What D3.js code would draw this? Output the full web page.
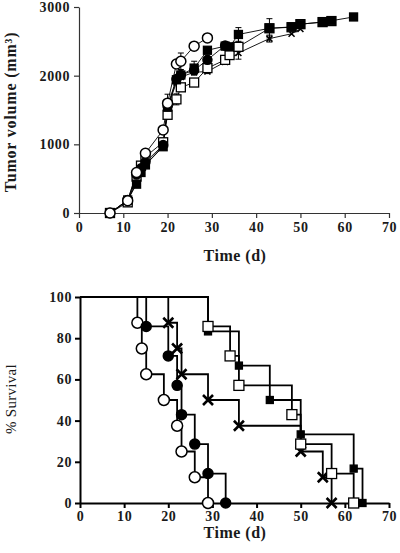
<!DOCTYPE html>
<html><head><meta charset="utf-8">
<script src="https://cdn.jsdelivr.net/npm/d3@7"></script>
<style>body{margin:0;background:#fff}svg{display:block}</style>
</head><body><svg id="c" width="400" height="553"></svg>
<script>
// ---------- Data: tumor volume ----------
const tvDays = [7,11,13,14,15,19,20,22,23,26,29,33,34,36,43,48,50,55,57,62];
const tvOpenCircle   = [0,180,590,null,870,1210,1600,2170,2210,2430,2550,null,null,null,null,null,null,null,null,null];
const tvFilledCircle = [0,190,560,650,740,990,1560,1950,2010,2080,2230,2440,null,null,null,null,null,null,null,null];
const tvFilledSquare = [0,190,420,590,700,965,1540,1940,2010,2110,2370,2430,2420,2600,2690,2710,2750,2780,2800,2855];
const tvOpenSquare   = [0,155,530,690,820,1030,1430,1655,1830,1900,2110,2230,2300,2420,2690,2705,2750,2780,2795,null];
const tvCross        = [0,180,460,620,700,980,1540,1900,1980,2050,2060,2200,null,2330,2540,2610,2680,null,null,null];
const tvErrOpenCircle   = [0,0,0,null,0,0,0,0,120,0,0,null,null,null,null,null,null,null,null,null];
const tvErrFilledCircle = [0,0,0,0,0,0,170,0,0,0,0,0,null,null,null,null,null,null,null,null];
const tvErrFilledSquare = [0,0,0,0,0,0,0,0,0,100,0,0,0,100,0,0,0,0,0,0];
const tvErrOpenSquare   = [0,0,0,0,0,0,0,80,0,0,80,0,0,180,140,0,0,0,0,null];
const tvErrCross        = [0,0,0,0,0,0,0,0,0,0,0,0,null,0,50,0,0,null,null,null];

// ---------- Data: survival (day of drop, % after drop) ----------
const svOpenCircleDays   = [13,14,15,19,22,23,26,29];
const svOpenCircleVals   = [87.5,75,62.5,50,37.5,25,12.5,0];
const svFilledCircleDays = [15,20,22,23,26,29,33];
const svFilledCircleVals = [85.7,71.4,57.1,42.9,28.6,14.3,0];
const svCrossDays        = [20,22,23,29,36,50,55,57];
const svCrossVals        = [87.5,75,62.5,50,37.5,25,12.5,0];
const svFilledSquareDays = [29,36,43,50,62,64];
const svFilledSquareVals = [83.3,66.7,50,33.3,16.7,0];
const svOpenSquareDays   = [29,34,36,48,50,57,62];
const svOpenSquareVals   = [85.7,71.4,57.1,42.9,28.6,14.3,0];

const xTicks = [0,10,20,30,40,50,60,70];
const tvYTicks = [0,1000,2000,3000];
const svYTicks = [0,20,40,60,80,100];

const svg = d3.select("#c");
const FONT = "'Liberation Serif', 'DejaVu Serif', serif";

function marker(g, type, x, y, s) {
  if (type === "oc" || type === "fc") {
    g.append("circle").attr("cx", x).attr("cy", y).attr("r", s)
      .attr("fill", type === "oc" ? "#fff" : "#000").attr("stroke", "#000").attr("stroke-width", 1.5);
  } else if (type === "os" || type === "fs") {
    g.append("rect").attr("x", x - s).attr("y", y - s).attr("width", 2 * s).attr("height", 2 * s)
      .attr("fill", type === "os" ? "#fff" : "#000").attr("stroke", "#000").attr("stroke-width", 1.3);
  } else if (type === "x") {
    g.append("path").attr("d", `M${x-s},${y-s}L${x+s},${y+s}M${x-s},${y+s}L${x+s},${y-s}`)
      .attr("stroke", "#000").attr("stroke-width", s > 4 ? 2.6 : 1.6);
  }
}
function styleTicks(a, col, w) {
  a.selectAll("path,line").attr("stroke", col).attr("stroke-width", w);
  a.selectAll("text").attr("font-family", FONT).attr("font-weight", "bold").attr("font-size", 14)
    .attr("letter-spacing", 0.6).attr("fill", "#1a1a1a");
}

// ================= Top chart =================
{
  const x = d3.scaleLinear().domain([0,70]).range([79,389]);
  const y = d3.scaleLinear().domain([0,3000]).range([213,7]);
  const g = svg.append("g");
  const ax = g.append("g").attr("transform", "translate(0,213)")
    .call(d3.axisBottom(x).tickValues(xTicks).tickFormat(d3.format("d")).tickSize(5).tickSizeOuter(0).tickPadding(4));
  const ay = g.append("g").attr("transform", "translate(79,0)")
    .call(d3.axisLeft(y).tickValues(tvYTicks).tickFormat(d3.format("d")).tickSize(5).tickSizeOuter(0).tickPadding(4));
  styleTicks(ax, "#333", 1.2); styleTicks(ay, "#333", 1.2);
  g.append("text").attr("x", 235).attr("y", 261).attr("text-anchor", "middle")
    .attr("font-family", FONT).attr("font-weight", "bold").attr("font-size", 16).attr("letter-spacing", 0.5)
    .attr("fill", "#1a1a1a").text("Time (d)");
  g.append("text").attr("transform", "translate(16,112) rotate(-90)").attr("text-anchor", "middle")
    .attr("font-family", FONT).attr("font-weight", "bold").attr("font-size", 16).attr("letter-spacing", 0.8)
    .attr("fill", "#1a1a1a").text("Tumor volume (mm³)");

  const series = [
    {v: tvCross, e: tvErrCross, t: "x", s: 3},
    {v: tvOpenSquare, e: tvErrOpenSquare, t: "os", s: 4.5},
    {v: tvFilledCircle, e: tvErrFilledCircle, t: "fc", s: 4.5},
    {v: tvFilledSquare, e: tvErrFilledSquare, t: "fs", s: 4},
    {v: tvOpenCircle, e: tvErrOpenCircle, t: "oc", s: 5}
  ];
  const line = d3.line().defined(d => d[1] != null).x(d => x(d[0])).y(d => y(d[1]));
  series.forEach(sr => {
    const pts = tvDays.map((d, i) => [d, sr.v[i], sr.e[i]]).filter(p => p[1] != null);
    g.append("path").attr("d", line(pts)).attr("fill", "none").attr("stroke", "#000").attr("stroke-width", 0.9);
    pts.forEach(p => {
      if (p[2]) {
        const px = x(p[0]);
        g.append("path").attr("d", `M${px},${y(p[1]-p[2])}V${y(p[1]+p[2])}M${px-3},${y(p[1]+p[2])}H${px+3}M${px-3},${y(p[1]-p[2])}H${px+3}`)
          .attr("stroke", "#000").attr("stroke-width", 1).attr("fill", "none");
      }
    });
  });
  series.forEach(sr => {
    tvDays.forEach((d, i) => { if (sr.v[i] != null) marker(g, sr.t, x(d), y(sr.v[i]), sr.s); });
  });
}

// ================= Bottom chart =================
{
  const x = d3.scaleLinear().domain([0,70]).range([80,389]);
  const y = d3.scaleLinear().domain([0,100]).range([503,297]);
  const g = svg.append("g");
  const series = [
    {d: svOpenCircleDays, v: svOpenCircleVals, t: "oc", s: 5.5},
    {d: svFilledCircleDays, v: svFilledCircleVals, t: "fc", s: 5},
    {d: svCrossDays, v: svCrossVals, t: "x", s: 5},
    {d: svFilledSquareDays, v: svFilledSquareVals, t: "fs", s: 3.5},
    {d: svOpenSquareDays, v: svOpenSquareVals, t: "os", s: 5}
  ];
  const line = d3.line().curve(d3.curveStepAfter).x(d => x(d[0])).y(d => y(d[1]));
  series.forEach(sr => {
    const pts = [[0,100]].concat(sr.d.map((d, i) => [d, sr.v[i]]));
    g.append("path").attr("d", line(pts)).attr("fill", "none").attr("stroke", "#000").attr("stroke-width", 1.8);
  });
  const ax = g.append("g").attr("transform", "translate(0,503)")
    .call(d3.axisBottom(x).tickValues(xTicks).tickFormat(d3.format("d")).tickSize(5).tickSizeOuter(0).tickPadding(3));
  const ay = g.append("g").attr("transform", "translate(80,0)")
    .call(d3.axisLeft(y).tickValues(svYTicks).tickFormat(d3.format("d")).tickSize(5).tickSizeOuter(0).tickPadding(3));
  styleTicks(ax, "#000", 2); styleTicks(ay, "#000", 2);
  series.forEach(sr => {
    sr.d.forEach((d, i) => marker(g, sr.t, x(d), y(sr.v[i]), sr.s));
  });
  g.append("text").attr("x", 235).attr("y", 538).attr("text-anchor", "middle")
    .attr("font-family", FONT).attr("font-weight", "bold").attr("font-size", 16).attr("letter-spacing", 0.5)
    .attr("fill", "#1a1a1a").text("Time (d)");
  g.append("text").attr("transform", "translate(16,399) rotate(-90)").attr("text-anchor", "middle")
    .attr("font-family", FONT).attr("font-size", 15).attr("letter-spacing", 0.3)
    .attr("fill", "#1a1a1a").text("% Survival");
}
</script></body></html>
